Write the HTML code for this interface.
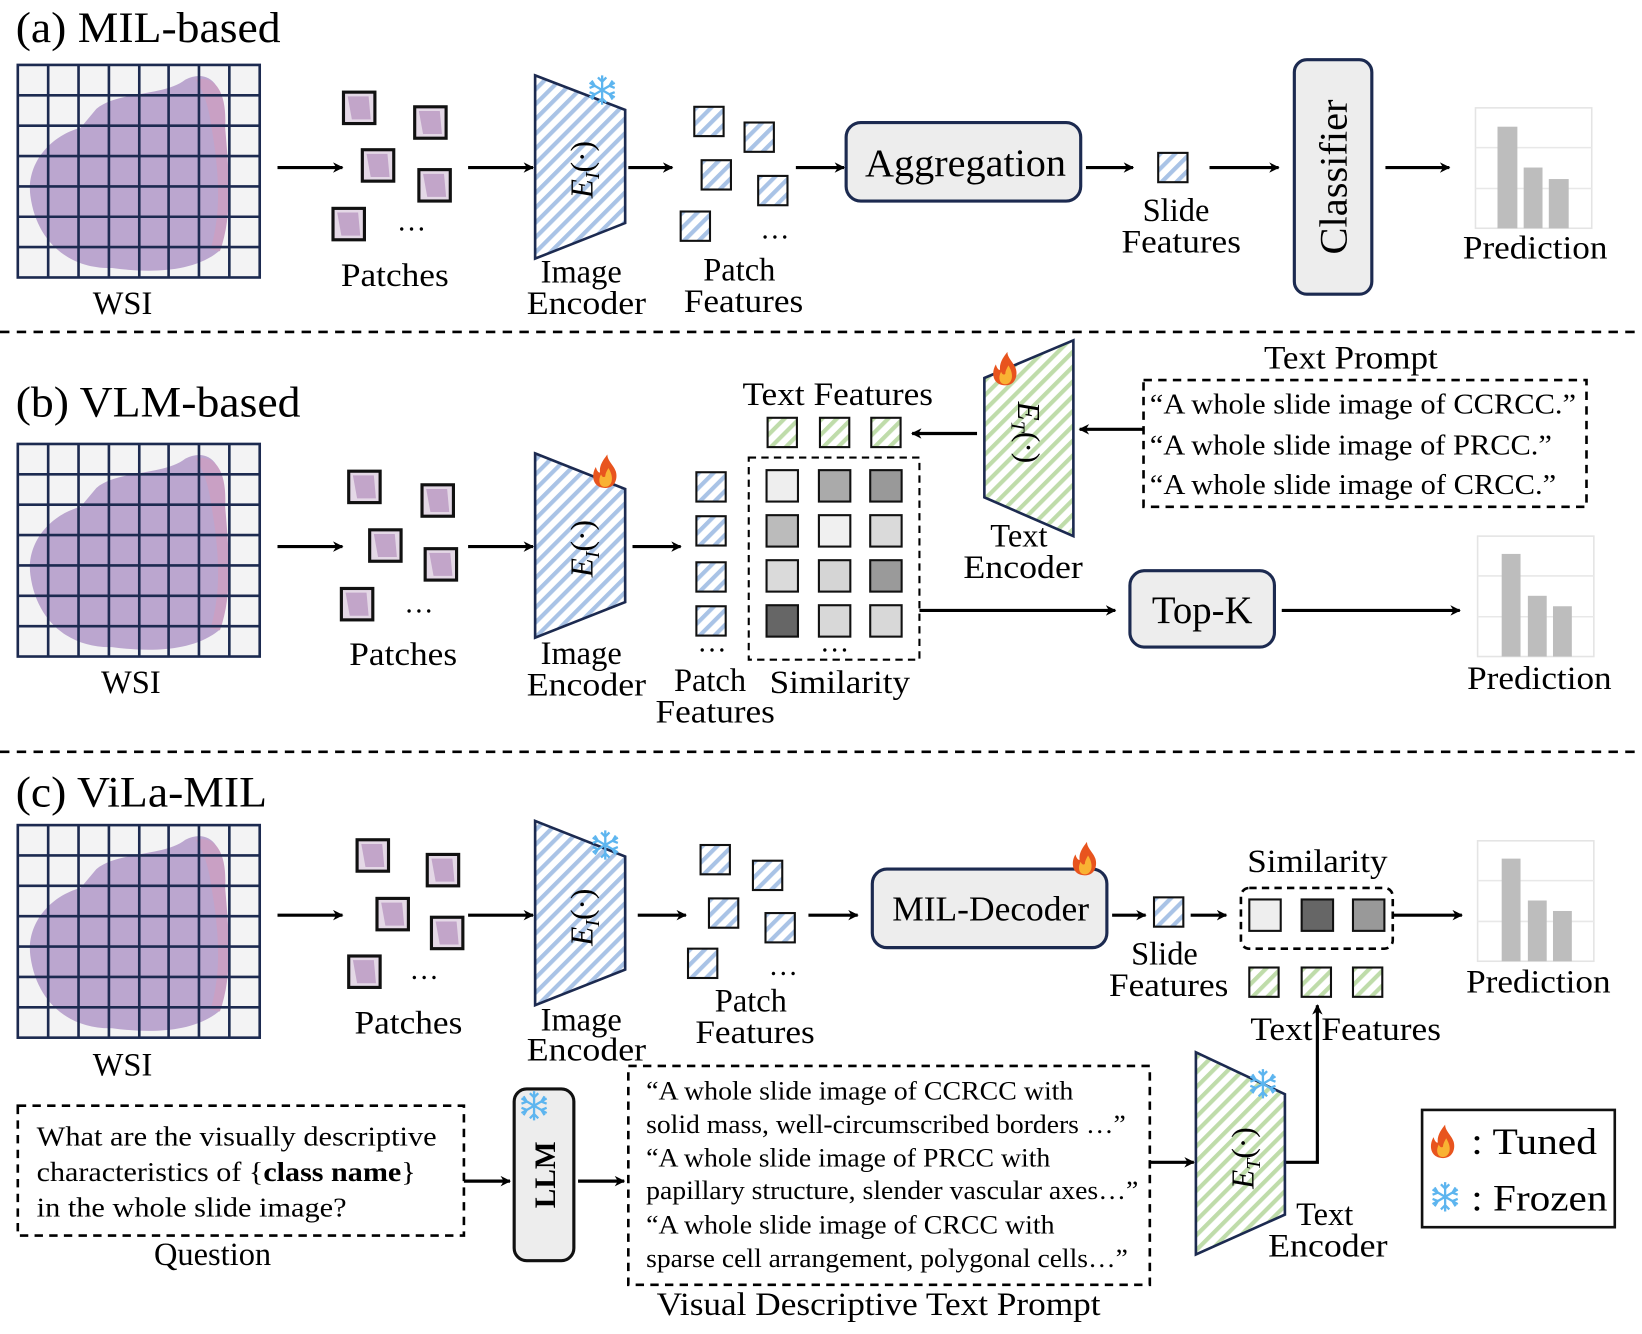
<!DOCTYPE html>
<html><head><meta charset="utf-8"><style>
html,body{margin:0;padding:0;background:#fff;}
svg{display:block;}
svg, svg text{font-family:"Liberation Serif","Times New Roman",Times,serif;}
text{fill:#000;}
</style></head><body>
<svg width="1642" height="1334" viewBox="0 0 1568 1274" preserveAspectRatio="none" xmlns="http://www.w3.org/2000/svg" font-family="Liberation Serif, Times New Roman, serif">
<defs>
<pattern id="hb" patternUnits="userSpaceOnUse" width="10" height="10" patternTransform="rotate(45)">
<rect width="10" height="10" fill="#fff"/><rect width="4" height="10" fill="#a9c3e6"/></pattern>
<pattern id="hg" patternUnits="userSpaceOnUse" width="10" height="10" patternTransform="rotate(45)">
<rect width="10" height="10" fill="#fff"/><rect width="4" height="10" fill="#bfdcaa"/></pattern>
<marker id="ar" markerWidth="10" markerHeight="10" refX="9" refY="5" orient="auto" markerUnits="userSpaceOnUse">
<path d="M0,0 L10,5 L0,10 L3,5 Z" fill="#000"/></marker>
<g id="wsi">
<rect x="0" y="0" width="231" height="203" fill="#f3f3f4"/>
<path d="M12,125 C8,95 30,68 60,60 L75,42 C95,25 140,30 160,14 C180,4 198,15 196,55 C200,100 206,140 192,178 C165,200 120,198 90,194 C50,195 18,170 12,125 Z" fill="#bba6cf"/>
<path d="M170,14 C188,10 200,25 198,60 C202,105 205,145 193,178 L184,176 C195,140 192,100 185,60 C182,35 175,22 170,14 Z" fill="#c9a0c4"/>
<g stroke="#1c2a50" stroke-width="2.5" fill="none">
<rect x="0" y="0" width="231" height="203"/>
<path d="M29,0V203M58,0V203M87,0V203M116,0V203M144,0V203M173,0V203M202,0V203M0,29H231M0,58H231M0,87H231M0,116H231M0,145H231M0,174H231"/>
</g></g>
<g id="pt"><rect x="0" y="0" width="30" height="30" fill="#e4d8e6" stroke="#111" stroke-width="3"/><path d="M4,4 L24,4 L26,26 L8,26 Z" fill="#c2a5c9"/></g>
<g id="pf"><rect x="0" y="0" width="28" height="28" fill="url(#hb)" stroke="#111" stroke-width="2"/></g>
<g id="tf"><rect x="0" y="0" width="28" height="28" fill="url(#hg)" stroke="#111" stroke-width="2"/></g>
<g id="fire"><path d="M0,14 C-12,14 -14,2 -9,-6 C-8,-2 -6,0 -5,-1 C-6,-8 -1,-14 2,-18 C2,-12 8,-8 10,-2 C12,4 10,14 0,14 Z" fill="#e8541e"/><path d="M0,13 C-6,13 -7,6 -4,1 C-3,4 -1,4 0,3 C0,0 2,-3 3,-5 C6,0 7,4 6,8 C5,11 3,13 0,13 Z" fill="#f9b233"/></g>
<g id="snow" stroke="#5db5ef" stroke-width="2.2" fill="none"><path d="M0,-14V14M-12,-7L12,7M-12,7L12,-7M-4,-12L0,-8L4,-12M-4,12L0,8L4,12M-12,-2L-7,-4L-10,-9M12,2L7,4L10,9M-12,2L-7,4L-10,9M12,-2L7,-4L10,-9"/></g>
<g id="chart"><rect x="0" y="0" width="111" height="115" fill="#fff" stroke="#e4e4e4" stroke-width="1.5"/><path d="M0,38H111M0,77H111" stroke="#e8e8e8" stroke-width="1.5"/></g>
</defs>

<g stroke="#000" stroke-width="3" fill="none" marker-end="url(#ar)">
<path d="M265,160H327"/><path d="M447,160H509"/><path d="M600,160H642"/><path d="M760,160H806"/><path d="M1037,160H1082"/><path d="M1155,160H1221"/><path d="M1323,160H1384"/>
<path d="M265,522H327"/><path d="M447,522H509"/><path d="M604,522H650"/><path d="M933,414H871"/><path d="M1092,410H1031"/><path d="M878,583H1065"/><path d="M1224,583H1394"/>
<path d="M265,874H327"/><path d="M447,874H509"/><path d="M609,874H655"/><path d="M772,874H819"/><path d="M1062,874H1094"/><path d="M1137,874H1171"/><path d="M1330,874H1396"/>
<path d="M443,1128H487"/><path d="M552,1128H596"/><path d="M1098,1110H1140"/><path d="M1227,1110H1258V960"/>
</g>

<path d="M0,317H1568M0,718H1568" stroke="#000" stroke-width="2.5" stroke-dasharray="9,7"/>

<!-- (a) -->
<text x="15" y="40" font-size="41" textLength="253" lengthAdjust="spacingAndGlyphs">(a) MIL-based</text>
<use href="#wsi" x="17" y="62"/>
<text x="117" y="300" font-size="31" text-anchor="middle">WSI</text>
<use href="#pt" x="328" y="88"/><use href="#pt" x="396" y="102"/><use href="#pt" x="346" y="143"/><use href="#pt" x="400" y="162"/><use href="#pt" x="318" y="199"/>
<text x="393" y="220" font-size="28" text-anchor="middle">…</text>
<text x="377" y="273" font-size="31" text-anchor="middle" textLength="103" lengthAdjust="spacingAndGlyphs">Patches</text>
<path d="M511,72 L597,105 L597,213 L511,247 Z" fill="url(#hb)" stroke="#1c2a50" stroke-width="2.5"/>
<text transform="translate(566,162) rotate(-90)" font-size="30" text-anchor="middle" font-style="italic">E<tspan font-size="19" dy="6">I</tspan><tspan dy="-6" font-style="normal">(·)</tspan></text>
<use href="#snow" x="575" y="86"/>
<text x="555" y="270" font-size="31" text-anchor="middle">Image</text>
<text x="560" y="300" font-size="31" text-anchor="middle" textLength="114" lengthAdjust="spacingAndGlyphs">Encoder</text>
<use href="#pf" x="663" y="102"/><use href="#pf" x="711" y="117"/><use href="#pf" x="670" y="153"/><use href="#pf" x="724" y="168"/><use href="#pf" x="650" y="202"/>
<text x="740" y="228" font-size="28" text-anchor="middle">…</text>
<text x="706" y="268" font-size="31" text-anchor="middle">Patch</text>
<text x="710" y="298" font-size="31" text-anchor="middle" textLength="114" lengthAdjust="spacingAndGlyphs">Features</text>
<rect x="808" y="117" width="224" height="75" rx="14" fill="#ededed" stroke="#1c2a50" stroke-width="3"/>
<text x="922" y="168" font-size="37" text-anchor="middle" textLength="192" lengthAdjust="spacingAndGlyphs">Aggregation</text>
<use href="#pf" x="1106" y="146"/>
<text x="1123" y="211" font-size="31" text-anchor="middle">Slide</text>
<text x="1128" y="241" font-size="31" text-anchor="middle" textLength="114" lengthAdjust="spacingAndGlyphs">Features</text>
<rect x="1236" y="57" width="74" height="224" rx="12" fill="#ededed" stroke="#1c2a50" stroke-width="3"/>
<text transform="translate(1286,169) rotate(-90)" font-size="37" text-anchor="middle" textLength="148" lengthAdjust="spacingAndGlyphs">Classifier</text>
<use href="#chart" x="1409" y="103"/>
<rect x="1430" y="121" width="19" height="97" fill="#bdbdbd"/><rect x="1455" y="160" width="18" height="58" fill="#bdbdbd"/><rect x="1479" y="171" width="19" height="47" fill="#bdbdbd"/>
<text x="1466" y="247" font-size="31" text-anchor="middle" textLength="138" lengthAdjust="spacingAndGlyphs">Prediction</text>

<!-- (b) -->
<text x="15" y="398" font-size="41" textLength="272" lengthAdjust="spacingAndGlyphs">(b) VLM-based</text>
<use href="#wsi" x="17" y="424"/>
<text x="125" y="662" font-size="31" text-anchor="middle">WSI</text>
<use href="#pt" x="333" y="450"/><use href="#pt" x="403" y="463"/><use href="#pt" x="353" y="506"/><use href="#pt" x="406" y="524"/><use href="#pt" x="326" y="562"/>
<text x="400" y="585" font-size="28" text-anchor="middle">…</text>
<text x="385" y="635" font-size="31" text-anchor="middle" textLength="103" lengthAdjust="spacingAndGlyphs">Patches</text>
<path d="M511,433 L597,467 L597,575 L511,609 Z" fill="url(#hb)" stroke="#1c2a50" stroke-width="2.5"/>
<text transform="translate(566,524) rotate(-90)" font-size="30" text-anchor="middle" font-style="italic">E<tspan font-size="19" dy="6">I</tspan><tspan dy="-6" font-style="normal">(·)</tspan></text>
<use href="#fire" x="578" y="452"/>
<text x="555" y="634" font-size="31" text-anchor="middle">Image</text>
<text x="560" y="664" font-size="31" text-anchor="middle" textLength="114" lengthAdjust="spacingAndGlyphs">Encoder</text>
<use href="#pf" x="665" y="451"/><use href="#pf" x="665" y="493"/><use href="#pf" x="665" y="537"/><use href="#pf" x="665" y="579"/>
<text x="680" y="622" font-size="28" text-anchor="middle">…</text>
<text x="678" y="660" font-size="31" text-anchor="middle">Patch</text>
<text x="683" y="690" font-size="31" text-anchor="middle" textLength="114" lengthAdjust="spacingAndGlyphs">Features</text>
<text x="800" y="387" font-size="31" text-anchor="middle" textLength="182" lengthAdjust="spacingAndGlyphs">Text Features</text>
<use href="#tf" x="733" y="399"/><use href="#tf" x="783" y="399"/><use href="#tf" x="832" y="399"/>
<rect x="715" y="437" width="163" height="193" fill="none" stroke="#000" stroke-width="2" stroke-dasharray="7,5"/>
<g stroke="#111" stroke-width="2">
<rect x="732" y="449" width="30" height="30" fill="#eeeeee"/><rect x="782" y="449" width="30" height="30" fill="#aaaaaa"/><rect x="831" y="449" width="30" height="30" fill="#999999"/>
<rect x="732" y="492" width="30" height="30" fill="#bbbbbb"/><rect x="782" y="492" width="30" height="30" fill="#f0f0f0"/><rect x="831" y="492" width="30" height="30" fill="#dadada"/>
<rect x="732" y="535" width="30" height="30" fill="#dadada"/><rect x="782" y="535" width="30" height="30" fill="#d5d5d5"/><rect x="831" y="535" width="30" height="30" fill="#9a9a9a"/>
<rect x="732" y="578" width="30" height="30" fill="#666666"/><rect x="782" y="578" width="30" height="30" fill="#d8d8d8"/><rect x="831" y="578" width="30" height="30" fill="#d8d8d8"/>
</g>
<text x="797" y="622" font-size="28" text-anchor="middle">…</text>
<text x="802" y="662" font-size="31" text-anchor="middle" textLength="134" lengthAdjust="spacingAndGlyphs">Similarity</text>
<path d="M940,361 L1025,325 L1025,512 L940,475 Z" fill="url(#hg)" stroke="#1c2a50" stroke-width="2.5"/>
<text transform="translate(972,413) rotate(90)" font-size="30" text-anchor="middle" font-style="italic">E<tspan font-size="19" dy="6">T</tspan><tspan dy="-6" font-style="normal">(·)</tspan></text>
<use href="#fire" x="960" y="354"/>
<text x="973" y="522" font-size="31" text-anchor="middle">Text</text>
<text x="977" y="552" font-size="31" text-anchor="middle" textLength="114" lengthAdjust="spacingAndGlyphs">Encoder</text>
<text x="1290" y="352" font-size="31" text-anchor="middle" textLength="166" lengthAdjust="spacingAndGlyphs">Text Prompt</text>
<rect x="1092" y="363" width="423" height="121" fill="none" stroke="#000" stroke-width="2.5" stroke-dasharray="8,6"/>
<text x="1098" y="395" font-size="27" textLength="407" lengthAdjust="spacingAndGlyphs">“A whole slide image of CCRCC.”</text>
<text x="1098" y="434" font-size="27" textLength="384" lengthAdjust="spacingAndGlyphs">“A whole slide image of PRCC.”</text>
<text x="1098" y="472" font-size="27" textLength="388" lengthAdjust="spacingAndGlyphs">“A whole slide image of CRCC.”</text>
<rect x="1079" y="545" width="138" height="73" rx="14" fill="#ededed" stroke="#1c2a50" stroke-width="3"/>
<text x="1148" y="595" font-size="37" text-anchor="middle">Top-K</text>
<use href="#chart" x="1411" y="512"/>
<rect x="1434" y="529" width="18" height="98" fill="#bdbdbd"/><rect x="1459" y="569" width="18" height="58" fill="#bdbdbd"/><rect x="1483" y="579" width="18" height="48" fill="#bdbdbd"/>
<text x="1470" y="658" font-size="31" text-anchor="middle" textLength="138" lengthAdjust="spacingAndGlyphs">Prediction</text>

<!-- (c) -->
<text x="15" y="770" font-size="41" textLength="240" lengthAdjust="spacingAndGlyphs">(c) ViLa-MIL</text>
<use href="#wsi" x="17" y="788"/>
<text x="117" y="1027" font-size="31" text-anchor="middle">WSI</text>
<use href="#pt" x="341" y="802"/><use href="#pt" x="408" y="816"/><use href="#pt" x="360" y="858"/><use href="#pt" x="412" y="876"/><use href="#pt" x="333" y="913"/>
<text x="405" y="935" font-size="28" text-anchor="middle">…</text>
<text x="390" y="987" font-size="31" text-anchor="middle" textLength="103" lengthAdjust="spacingAndGlyphs">Patches</text>
<path d="M511,784 L597,818 L597,926 L511,960 Z" fill="url(#hb)" stroke="#1c2a50" stroke-width="2.5"/>
<text transform="translate(566,876) rotate(-90)" font-size="30" text-anchor="middle" font-style="italic">E<tspan font-size="19" dy="6">I</tspan><tspan dy="-6" font-style="normal">(·)</tspan></text>
<use href="#snow" x="578" y="807"/>
<text x="555" y="984" font-size="31" text-anchor="middle">Image</text>
<text x="560" y="1013" font-size="31" text-anchor="middle" textLength="114" lengthAdjust="spacingAndGlyphs">Encoder</text>
<use href="#pf" x="669" y="807"/><use href="#pf" x="719" y="822"/><use href="#pf" x="677" y="858"/><use href="#pf" x="731" y="872"/><use href="#pf" x="657" y="906"/>
<text x="748" y="931" font-size="28" text-anchor="middle">…</text>
<text x="717" y="966" font-size="31" text-anchor="middle">Patch</text>
<text x="721" y="996" font-size="31" text-anchor="middle" textLength="114" lengthAdjust="spacingAndGlyphs">Features</text>
<rect x="833" y="830" width="224" height="75" rx="14" fill="#ededed" stroke="#1c2a50" stroke-width="3"/>
<text x="946" y="879" font-size="33" text-anchor="middle" textLength="188" lengthAdjust="spacingAndGlyphs">MIL-Decoder</text>
<use href="#fire" x="1036" y="822"/>
<use href="#pf" x="1102" y="857"/>
<text x="1112" y="921" font-size="31" text-anchor="middle">Slide</text>
<text x="1116" y="951" font-size="31" text-anchor="middle" textLength="114" lengthAdjust="spacingAndGlyphs">Features</text>
<text x="1258" y="833" font-size="31" text-anchor="middle" textLength="134" lengthAdjust="spacingAndGlyphs">Similarity</text>
<rect x="1185" y="848" width="145" height="58" rx="8" fill="none" stroke="#000" stroke-width="2.5" stroke-dasharray="7,5"/>
<g stroke="#111" stroke-width="2"><rect x="1193" y="859" width="30" height="30" fill="#eeeeee"/><rect x="1243" y="859" width="30" height="30" fill="#666666"/><rect x="1292" y="859" width="30" height="30" fill="#999999"/></g>
<use href="#tf" x="1193" y="924"/><use href="#tf" x="1243" y="924"/><use href="#tf" x="1292" y="924"/>
<text x="1285" y="993" font-size="31" text-anchor="middle" textLength="182" lengthAdjust="spacingAndGlyphs">Text Features</text>
<use href="#chart" x="1411" y="803"/>
<rect x="1434" y="820" width="18" height="98" fill="#bdbdbd"/><rect x="1459" y="860" width="18" height="58" fill="#bdbdbd"/><rect x="1483" y="870" width="18" height="48" fill="#bdbdbd"/>
<text x="1469" y="948" font-size="31" text-anchor="middle" textLength="138" lengthAdjust="spacingAndGlyphs">Prediction</text>

<rect x="17" y="1056" width="426" height="124" fill="none" stroke="#000" stroke-width="2.5" stroke-dasharray="8,6"/>
<text x="35" y="1094" font-size="26" textLength="382" lengthAdjust="spacingAndGlyphs">What are the visually descriptive</text>
<text x="35" y="1128" font-size="26" textLength="362" lengthAdjust="spacingAndGlyphs">characteristics of {<tspan font-weight="bold">class name</tspan>}</text>
<text x="35" y="1162" font-size="26" textLength="296" lengthAdjust="spacingAndGlyphs">in the whole slide image?</text>
<text x="203" y="1208" font-size="31" text-anchor="middle">Question</text>
<rect x="491" y="1040" width="57" height="164" rx="12" fill="#ededed" stroke="#111" stroke-width="3"/>
<text transform="translate(530,1122) rotate(-90)" font-size="28" font-weight="bold" text-anchor="middle">LLM</text>
<use href="#snow" x="510" y="1056"/>
<rect x="600" y="1018" width="498" height="209" fill="none" stroke="#000" stroke-width="2.5" stroke-dasharray="8,6"/>
<text x="617" y="1050" font-size="25" textLength="408" lengthAdjust="spacingAndGlyphs">“A whole slide image of CCRCC with</text>
<text x="617" y="1082" font-size="25" textLength="458" lengthAdjust="spacingAndGlyphs">solid mass, well-circumscribed borders …”</text>
<text x="617" y="1114" font-size="25" textLength="386" lengthAdjust="spacingAndGlyphs">“A whole slide image of PRCC with</text>
<text x="617" y="1145" font-size="25" textLength="470" lengthAdjust="spacingAndGlyphs">papillary structure, slender vascular axes…”</text>
<text x="617" y="1178" font-size="25" textLength="390" lengthAdjust="spacingAndGlyphs">“A whole slide image of CRCC with</text>
<text x="617" y="1210" font-size="25" textLength="460" lengthAdjust="spacingAndGlyphs">sparse cell arrangement, polygonal cells…”</text>
<text x="839" y="1256" font-size="31" text-anchor="middle" textLength="424" lengthAdjust="spacingAndGlyphs">Visual Descriptive Text Prompt</text>
<path d="M1142,1005 L1227,1045 L1227,1160 L1142,1198 Z" fill="url(#hg)" stroke="#1c2a50" stroke-width="2.5"/>
<text transform="translate(1197,1106) rotate(-90)" font-size="30" text-anchor="middle" font-style="italic">E<tspan font-size="19" dy="6">T</tspan><tspan dy="-6" font-style="normal">(·)</tspan></text>
<use href="#snow" x="1206" y="1035"/>
<text x="1265" y="1170" font-size="31" text-anchor="middle">Text</text>
<text x="1268" y="1200" font-size="31" text-anchor="middle" textLength="114" lengthAdjust="spacingAndGlyphs">Encoder</text>
<rect x="1358" y="1060" width="184" height="112" fill="#fff" stroke="#111" stroke-width="2.5"/>
<use href="#fire" x="1378" y="1092"/>
<text x="1405" y="1102" font-size="35" textLength="120" lengthAdjust="spacingAndGlyphs">: Tuned</text>
<use href="#snow" x="1380" y="1143"/>
<text x="1405" y="1156" font-size="35" textLength="130" lengthAdjust="spacingAndGlyphs">: Frozen</text>
</svg>
</body></html>
